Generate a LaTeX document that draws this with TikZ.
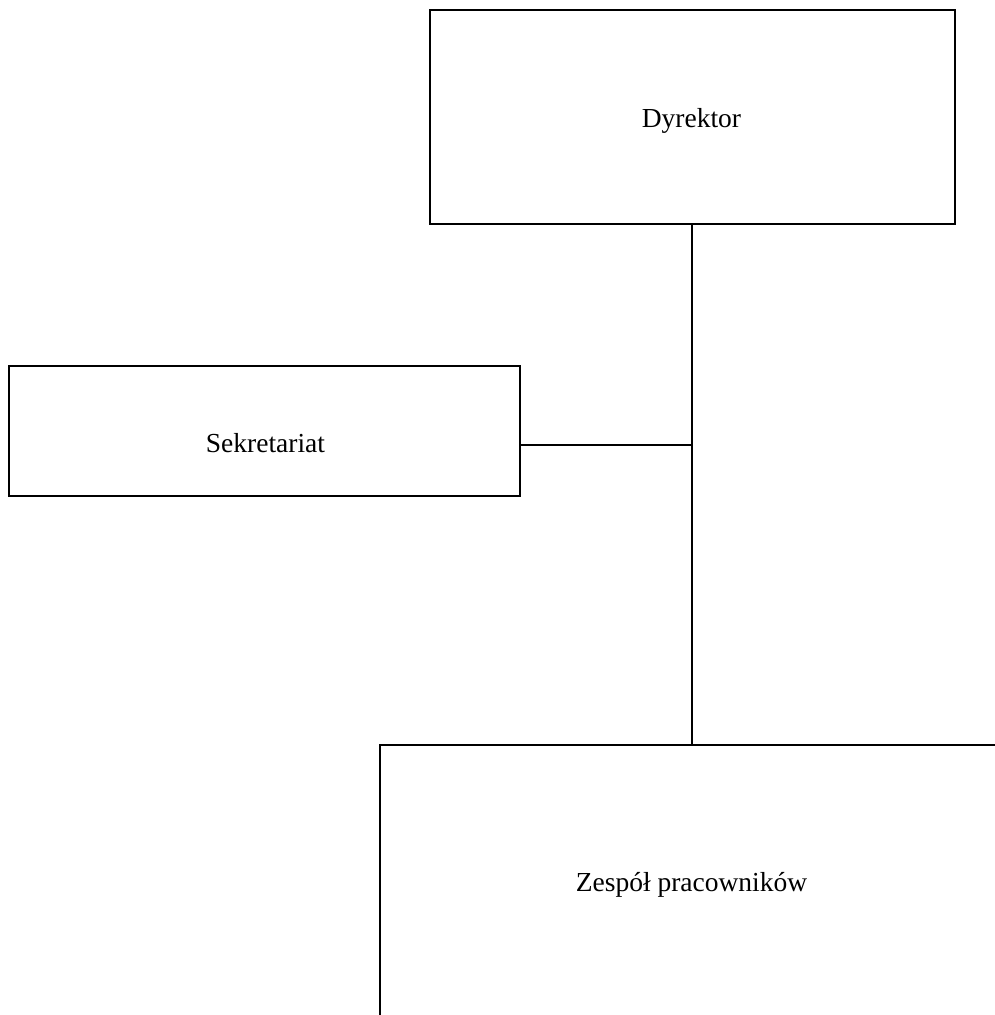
\documentclass[tikz,border=0pt]{standalone}
\usepackage{fontspec}
\setmainfont{Liberation Serif}
\begin{document}
\begin{tikzpicture}[x=1pt,y=-1pt,
  box/.style={draw=black,line width=2pt,rectangle,inner sep=0pt},
  lbl/.style={inner sep=0pt,anchor=base,font=\fontsize{27.5}{32}\selectfont},
  conn/.style={draw=black,line width=2pt}]
\clip (0,0) rectangle (995,1015);
\useasboundingbox (0,0) rectangle (995,1015);
\node[box,minimum width=525pt,minimum height=214pt] (dyr) at (692.5,117) {};
\node[lbl] (dyrt) at (691.5,127) {Dyrektor};
\node[box,minimum width=511pt,minimum height=130pt] (sek) at (264.5,431) {};
\node[lbl] (sekt) at (265.5,452) {Sekretariat};
\node[box,minimum width=640pt,minimum height=320pt] (zes) at (700,905) {};
\node[lbl] (zest) at (691.5,891) {Zespół pracowników};
\coordinate (j) at (692,445);
\draw[conn] (692,224) coordinate (dtop) -- (692,745) coordinate (zbot);
\draw[conn] (sek.east |- j) -- (j);
\end{tikzpicture}
\end{document}
